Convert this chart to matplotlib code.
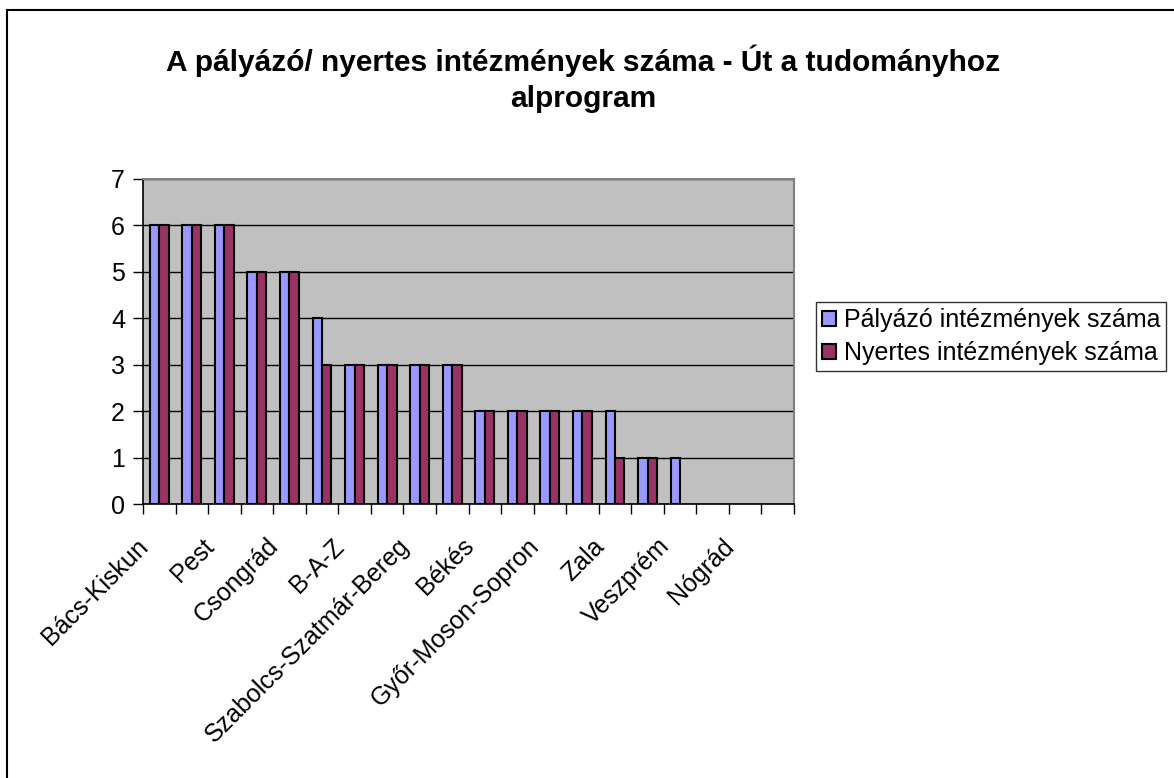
import numpy as np
import matplotlib.pyplot as plt
import matplotlib.transforms as mtransforms
from matplotlib.patches import Rectangle

plt.rcParams['font.family'] = ['Liberation Sans', 'DejaVu Sans']

# megyék (minden második felirat látszik a diagramon)
categories = ['Bács-Kiskun', 'Budapest', 'Pest', 'Hajdú-Bihar', 'Csongrád', 'Baranya',
              'B-A-Z', 'Fejér', 'Szabolcs-Szatmár-Bereg', 'Heves', 'Békés',
              'Jász-Nagykun-Szolnok', 'Győr-Moson-Sopron', 'Komárom-Esztergom', 'Zala',
              'Somogy', 'Veszprém', 'Tolna', 'Nógrád', 'Vas']
palyazo = [6, 6, 6, 5, 5, 4, 3, 3, 3, 3, 2, 2, 2, 2, 2, 1, 1, 0, 0, 0]
nyertes = [6, 6, 6, 5, 5, 3, 3, 3, 3, 3, 2, 2, 2, 2, 1, 1, 0, 0, 0, 0]
series_names = ['Pályázó intézmények száma', 'Nyertes intézmények száma']
colors = ['#9999FF', '#993366']

W, H, dpi = 1174, 778, 100
fig = plt.figure(figsize=(W / dpi, H / dpi), dpi=dpi)
fig.patch.set_facecolor('white')

# keret a teljes diagram körül
fig.patches.append(Rectangle((7 / W, -0.01), 1.1, 1 - 10 / H + 0.01, transform=fig.transFigure,
                             fill=False, edgecolor='black', linewidth=1.5))

ax = fig.add_axes([143 / W, 1 - 504 / H, (794 - 143) / W, (504 - 179) / H])
ax.set_facecolor('#C0C0C0')

x = np.arange(len(categories))
bw = 0.29
ax.bar(x - bw / 2, palyazo, bw, color=colors[0], edgecolor='black',
       linewidth=[1.5 if v > 0 else 0 for v in palyazo], label=series_names[0], zorder=3)
ax.bar(x + bw / 2, nyertes, bw, color=colors[1], edgecolor='black',
       linewidth=[1.5 if v > 0 else 0 for v in nyertes], label=series_names[1], zorder=3)

ax.set_xlim(-0.5, len(categories) - 0.5)
ax.set_ylim(0, 7)
ax.set_yticks(range(0, 8))
ax.yaxis.grid(True, color='black', linewidth=1, zorder=1)
ax.set_axisbelow(True)

# kategória-feliratok: csak minden második, 45 fokban elforgatva
ax.set_xticks([])
ax.set_xticks(np.arange(len(categories) + 1) - 0.5, minor=True)
ax.tick_params(axis='x', which='minor', length=7, width=1, direction='out', labelbottom=False)
lbl_tr = ax.get_xaxis_transform() + mtransforms.ScaledTranslation(-23 / dpi, -30 / dpi,
                                                                   fig.dpi_scale_trans)
for xi, name in zip(x[::2], categories[::2]):
    ax.text(xi, 0, name, transform=lbl_tr, rotation=45, ha='right', va='top',
            rotation_mode='anchor', fontsize=18, clip_on=False)

ax.tick_params(axis='y', labelsize=18, length=7, width=1, pad=6)

for s in ['top', 'right']:
    ax.spines[s].set_color('#808080')
    ax.spines[s].set_linewidth(1.5)
for s in ['left', 'bottom']:
    ax.spines[s].set_color('black')
    ax.spines[s].set_linewidth(1.2)

fig.text(583 / W, 1 - 78.5 / H, 'A pályázó/ nyertes intézmények száma - Út a tudományhoz\nalprogram',
         ha='center', va='center', fontsize=21.5, fontweight='bold', linespacing=1.38)

leg = fig.legend(loc='upper left', bbox_to_anchor=(816 / W, 1 - 302 / H), fontsize=18,
                 frameon=True, fancybox=False, edgecolor='black', handlelength=0.55,
                 handleheight=0.55, handletextpad=0.3, borderpad=0.25, labelspacing=0.35,
                 borderaxespad=0)
leg.get_frame().set_linewidth(1)

fig.savefig('out.png', dpi=dpi)
